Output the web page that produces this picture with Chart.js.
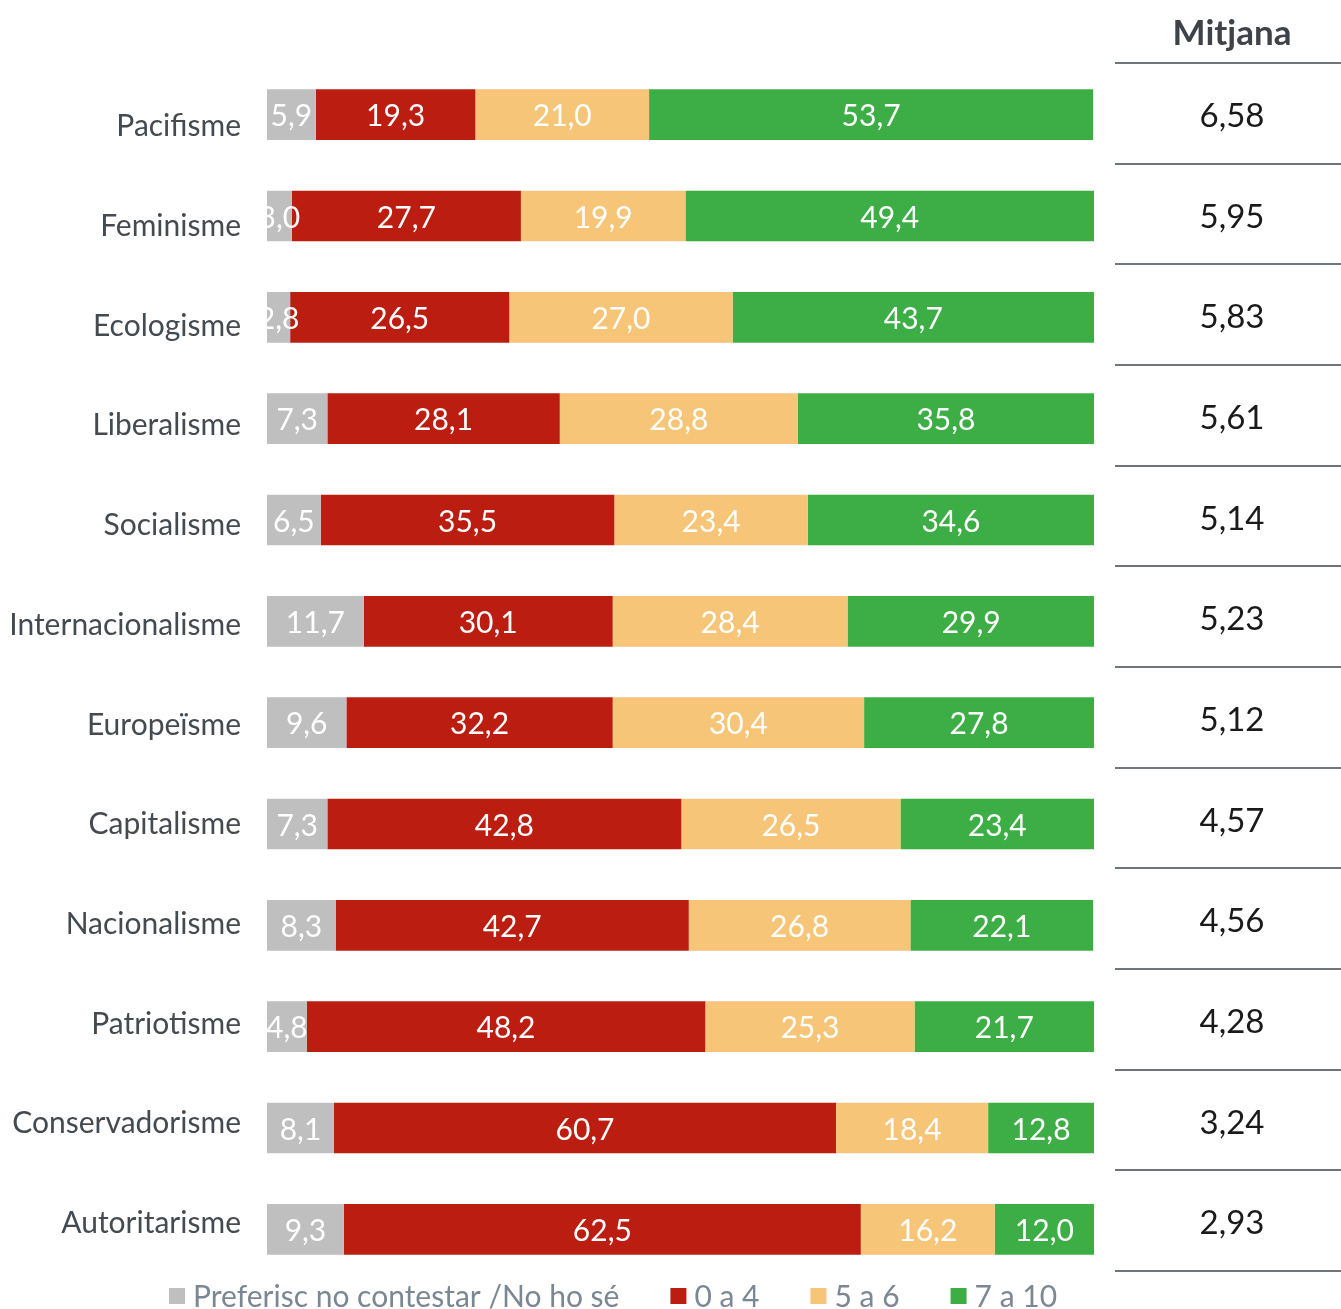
<!DOCTYPE html>
<html lang="ca">
<head>
    <meta charset="UTF-8">
    <title>Valoració d'ideologies</title>
    <script src="https://cdn.jsdelivr.net/npm/chart.js"></script>
    <style>
        html, body {
            margin: 0;
            padding: 0;
            background: #fff;
        }
        #wrap {
            position: relative;
            width: 1341px;
            height: 1309px;
        }
    </style>
</head>
<body>
    <div id="wrap">
        <canvas id="ideologyChart"></canvas>
    </div>

    <script>
        // Categories (top to bottom)
        const categories = ['Pacifisme', 'Feminisme', 'Ecologisme', 'Liberalisme', 'Socialisme',
            'Internacionalisme', 'Europeïsme', 'Capitalisme', 'Nacionalisme', 'Patriotisme',
            'Conservadorisme', 'Autoritarisme'];

        // Series values (%)
        const noAnswer = [5.9, 3.0, 2.8, 7.3, 6.5, 11.7, 9.6, 7.3, 8.3, 4.8, 8.1, 9.3];
        const score0to4 = [19.3, 27.7, 26.5, 28.1, 35.5, 30.1, 32.2, 42.8, 42.7, 48.2, 60.7, 62.5];
        const score5to6 = [21.0, 19.9, 27.0, 28.8, 23.4, 28.4, 30.4, 26.5, 26.8, 25.3, 18.4, 16.2];
        const score7to10 = [53.7, 49.4, 43.7, 35.8, 34.6, 29.9, 27.8, 23.4, 22.1, 21.7, 12.8, 12.0];

        // Mean score per category (right-hand table)
        const means = [6.58, 5.95, 5.83, 5.61, 5.14, 5.23, 5.12, 4.57, 4.56, 4.28, 3.24, 2.93];
        const meanHeader = 'Mitjana';

        const seriesLabels = ['Preferisc no contestar /No ho sé', '0 a 4', '5 a 6', '7 a 10'];
        const seriesColors = ['#bfbfbf', '#bb1d10', '#f6c578', '#3dae45'];

        const FONT = 'Lato, "Open Sans", sans-serif';

        function fmt(v, digits) {
            return v.toFixed(digits).replace('.', ',');
        }

        // White value labels centred in each segment, clipped to the plot area
        const barLabels = {
            id: 'barLabels',
            afterDatasetsDraw(chart) {
                const ctx = chart.ctx;
                const area = chart.chartArea;
                ctx.save();
                ctx.beginPath();
                ctx.rect(area.left, area.top, area.right - area.left, area.bottom - area.top);
                ctx.clip();
                ctx.font = '30px ' + FONT;
                ctx.fillStyle = '#ffffff';
                ctx.textAlign = 'center';
                ctx.textBaseline = 'middle';
                chart.data.datasets.forEach((ds, i) => {
                    chart.getDatasetMeta(i).data.forEach((bar, j) => {
                        const cx = (bar.x + bar.base) / 2;
                        ctx.fillText(fmt(ds.data[j], 1), cx, bar.y + 2);
                    });
                });
                ctx.restore();
            }
        };

        // "Mitjana" table on the right side
        const meanTable = {
            id: 'meanTable',
            afterDraw(chart) {
                const ctx = chart.ctx;
                const area = chart.chartArea;
                const x0 = 1115, x1 = chart.width;
                const cx = 1232;
                const top = area.top - 1;
                const bottom = area.bottom - 9;
                const rowH = (bottom - top) / means.length;

                ctx.save();
                ctx.strokeStyle = '#6f767b';
                ctx.lineWidth = 2;
                for (let k = 0; k <= means.length; k++) {
                    const y = Math.round(top + k * rowH);
                    ctx.beginPath();
                    ctx.moveTo(x0, y);
                    ctx.lineTo(x1, y);
                    ctx.stroke();
                }

                ctx.textAlign = 'center';
                ctx.textBaseline = 'middle';
                ctx.fillStyle = '#3d4348';
                ctx.font = 'bold 35px ' + FONT;
                ctx.fillText(meanHeader, cx, top - 29);

                ctx.fillStyle = '#1a1a1a';
                ctx.font = '33px ' + FONT;
                means.forEach((m, k) => {
                    ctx.fillText(fmt(m, 2), cx, top + (k + 0.5) * rowH + 3);
                });
                ctx.restore();
            }
        };

        // Legend drawn under the bars
        const bottomLegend = {
            id: 'bottomLegend',
            afterDraw(chart) {
                const ctx = chart.ctx;
                const box = 16, gapText = 8, gapItem = 51;
                const centerX = 613;
                const y = chart.chartArea.bottom + 16;
                ctx.save();
                ctx.font = '30px ' + FONT;
                ctx.textBaseline = 'middle';
                ctx.textAlign = 'left';
                const widths = chart.data.datasets.map(ds => box + gapText + ctx.measureText(ds.label).width);
                const total = widths.reduce((a, b) => a + b, 0) + gapItem * (widths.length - 1);
                let x = centerX - total / 2;
                chart.data.datasets.forEach((ds, i) => {
                    ctx.fillStyle = ds.backgroundColor;
                    ctx.fillRect(x, y - box / 2, box, box);
                    ctx.fillStyle = '#7b8792';
                    ctx.fillText(ds.label, x + box + gapText, y + 1);
                    x += widths[i] + gapItem;
                });
                ctx.restore();
            }
        };

        const seriesData = [noAnswer, score0to4, score5to6, score7to10];

        function categoryAt(v) {
            const k = Math.round(v);
            return Math.abs(v - k) < 1e-6 && categories[k] !== undefined ? categories[k] : '';
        }

        const ctx = document.getElementById('ideologyChart').getContext('2d');
        const chart = new Chart(ctx, {
            type: 'bar',
            data: {
                labels: categories,
                datasets: seriesData.map((values, i) => ({
                    label: seriesLabels[i],
                    data: values,
                    backgroundColor: seriesColors[i],
                    borderWidth: 0,
                    barPercentage: 0.5,
                    categoryPercentage: 1.0
                }))
            },
            options: {
                indexAxis: 'y',
                responsive: true,
                maintainAspectRatio: false,
                animation: false,
                layout: {
                    padding: { top: 64, right: 247, bottom: 29, left: 0 }
                },
                scales: {
                    x: {
                        stacked: true,
                        min: 0,
                        max: 100,
                        display: false
                    },
                    y: {
                        stacked: true,
                        display: false
                    },
                    // label axis: the original labels sit on a slightly tighter pitch than the bars
                    yLabels: {
                        type: 'linear',
                        position: 'left',
                        reverse: true,
                        offset: false,
                        min: -0.627,
                        max: 11.566,
                        grid: { display: false },
                        border: { display: false },
                        afterFit: (scale) => {
                            scale.width = 267;
                            scale.paddingTop = 0;
                            scale.paddingBottom = 0;
                        },
                        ticks: {
                            stepSize: 1,
                            includeBounds: true,
                            autoSkip: false,
                            padding: 18,
                            color: '#444b50',
                            font: { family: FONT, size: 30 },
                            callback: (v) => categoryAt(v)
                        }
                    }
                },
                plugins: {
                    legend: { display: false },
                    tooltip: { enabled: false }
                }
            },
            plugins: [barLabels, meanTable, bottomLegend]
        });
    </script>
</body>
</html>
